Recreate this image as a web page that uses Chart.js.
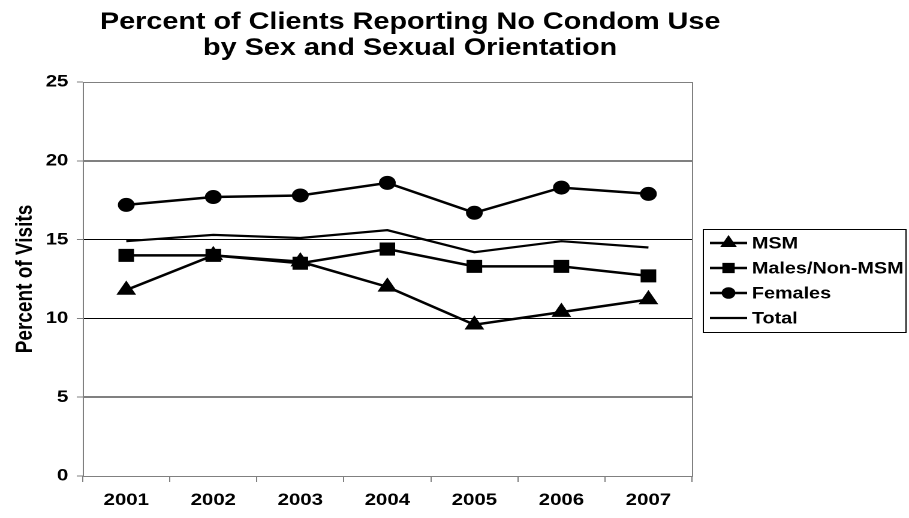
<!DOCTYPE html>
<html>
<head>
<meta charset="utf-8">
<title>Percent of Clients Reporting No Condom Use</title>
<script src="https://cdn.jsdelivr.net/npm/chart.js@4"></script>
<style>
  html, body { margin: 0; padding: 0; background: #ffffff; }
  #wrap { width: 909px; height: 518px; overflow: hidden; }
</style>
</head>
<body>
<div id="wrap">
  <!-- the drawing surface is laid out narrower and widened to the full frame -->
  <canvas id="chart" width="758" height="518" style="display:block;width:909px;height:518px;"></canvas>
</div>
<script>
// Survey years
const years = ['2001', '2002', '2003', '2004', '2005', '2006', '2007'];

// Percent of visits with no condom use, by group
const msm = [11.8, 14.0, 13.6, 12.0, 9.6, 10.4, 11.2];
const malesNonMsm = [14.0, 14.0, 13.5, 14.4, 13.3, 13.3, 12.7];
const females = [17.2, 17.7, 17.8, 18.6, 16.7, 18.3, 17.9];
const total = [14.9, 15.3, 15.1, 15.6, 14.2, 14.9, 14.5];

// Value axis ticks
const yTicks = [0, 5, 10, 15, 20, 25];

const titleLines = ['Percent of Clients Reporting No Condom Use', 'by Sex and Sexual Orientation'];
const yTitle = 'Percent of Visits';

const FONT = '"Liberation Sans", Arial, Helvetica, sans-serif';
const GREY = '#808080';

// Title, plot frame and boxed legend
const decorations = {
  id: 'decorations',
  beforeDatasetsDraw(chart) {
    const { ctx, chartArea: a } = chart;
    ctx.save();
    ctx.strokeStyle = GREY;
    ctx.lineWidth = 1;
    ctx.strokeRect(Math.round(a.left) + 0.5, Math.round(a.top) + 0.5,
                   Math.round(a.right - a.left), Math.round(a.bottom - a.top));
    ctx.restore();
  },
  afterDraw(chart) {
    const { ctx } = chart;
    ctx.save();
    // title
    ctx.fillStyle = '#000';
    ctx.font = 'bold 24px ' + FONT;
    ctx.textAlign = 'center';
    ctx.textBaseline = 'alphabetic';
    ctx.fillText(titleLines[0], 342, 29);
    ctx.fillText(titleLines[1], 342, 55);

    // legend box
    const box = { x: 586, y: 229, w: 169, h: 103 };
    ctx.fillStyle = '#fff';
    ctx.fillRect(box.x, box.y, box.w, box.h);
    ctx.strokeStyle = '#000';
    ctx.lineWidth = 1;
    ctx.strokeRect(box.x + 0.5, box.y + 0.5, box.w, box.h);

    const rowY = [243, 268, 293, 318];
    ctx.font = 'bold 16.5px ' + FONT;
    ctx.textAlign = 'left';
    ctx.textBaseline = 'middle';
    chart.data.datasets.forEach((ds, i) => {
      const y = rowY[i];
      ctx.strokeStyle = '#000';
      ctx.lineWidth = ds.borderWidth;
      ctx.beginPath();
      ctx.moveTo(592, y);
      ctx.lineTo(623, y);
      ctx.stroke();
      if (ds.pointRadius > 0) {
        ctx.fillStyle = '#000';
        Chart.helpers.drawPoint(ctx, {
          pointStyle: ds.pointStyle,
          radius: ds.legendRadius,
          rotation: 0,
          borderWidth: 1
        }, 607.5, y);
      }
      ctx.fillStyle = '#000';
      ctx.fillText(ds.label, 627, y + 1);
    });
    ctx.restore();
  }
};

const lineSet = (label, data, style, radius, legendRadius, width) => ({
  label,
  data,
  borderColor: '#000',
  backgroundColor: '#000',
  borderWidth: width,
  pointStyle: style,
  pointRadius: radius,
  pointHoverRadius: radius,
  pointBackgroundColor: '#000',
  pointBorderColor: '#000',
  pointBorderWidth: 1,
  legendRadius,
  tension: 0,
  fill: false
});

new Chart(document.getElementById('chart'), {
  type: 'line',
  data: {
    labels: years,
    datasets: [
      lineSet('MSM', msm, 'triangle', 8.5, 5.5, 2.5),
      lineSet('Males/Non-MSM', malesNonMsm, 'rect', 8.5, 5.5, 2.5),
      lineSet('Females', females, 'circle', 6.5, 4.5, 2.5),
      lineSet('Total', total, 'circle', 0, 0, 2.2)
    ]
  },
  options: {
    responsive: false,
    devicePixelRatio: 2,
    animation: false,
    events: [],
    layout: { padding: { left: 0, right: 181, top: 82, bottom: 0 } },
    plugins: {
      legend: { display: false },
      title: { display: false },
      tooltip: { enabled: false }
    },
    scales: {
      x: {
        type: 'category',
        offset: true,
        grid: {
          offset: true,
          drawOnChartArea: false,
          drawTicks: true,
          tickLength: 6,
          tickColor: GREY,
          tickWidth: 1
        },
        border: { display: false },
        ticks: {
          color: '#000',
          font: { family: FONT, size: 17, weight: 'bold' },
          padding: 8,
          maxRotation: 0,
          autoSkip: false
        },
        afterFit(scale) { scale.height = 42; }
      },
      y: {
        min: 0,
        max: 25,
        afterBuildTicks(scale) { scale.ticks = yTicks.map(v => ({ value: v })); },
        grid: {
          color: c => (c.tick && (c.tick.value === 0 || c.tick.value === 25)) ? 'rgba(0,0,0,0)' : '#000',
          lineWidth: 1,
          drawTicks: true,
          tickLength: 5,
          tickColor: GREY,
          tickWidth: 1
        },
        border: { display: false },
        ticks: {
          color: '#000',
          font: { family: FONT, size: 17, weight: 'bold' },
          padding: 7
        },
        title: {
          display: true,
          text: yTitle,
          color: '#000',
          font: { family: FONT, size: 19, weight: 'bold' },
          padding: { top: 10, bottom: 0 }
        },
        afterFit(scale) { scale.width = 69; }
      }
    }
  },
  plugins: [decorations]
});
</script>
</body>
</html>
